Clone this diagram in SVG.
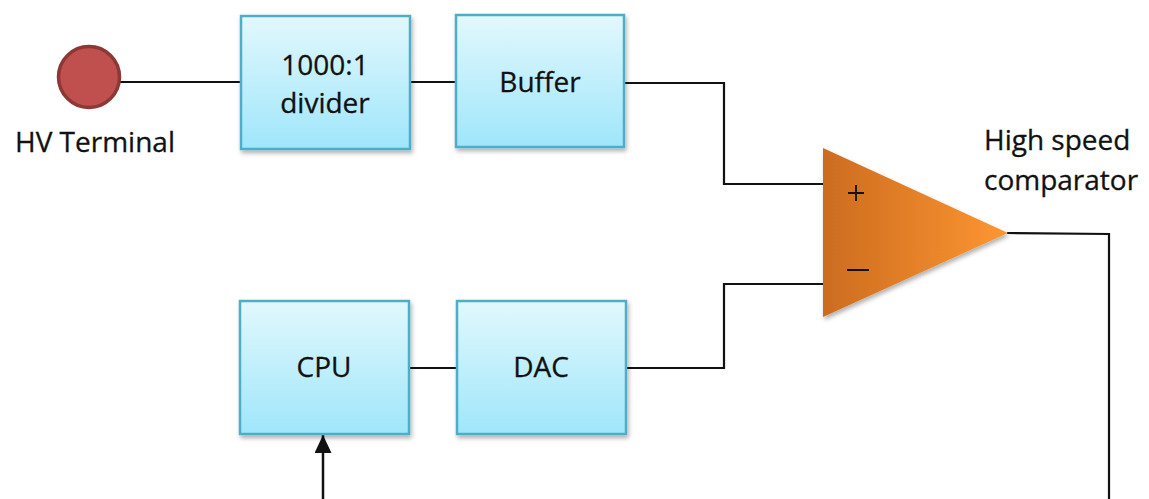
<svg xmlns="http://www.w3.org/2000/svg" width="1149" height="499" viewBox="0 0 1149 499">
<style>
.box{fill:url(#bg);stroke:#4eaec8;stroke-width:2.5;filter:url(#sh)}
.t{font-family:"Open Sans","Liberation Sans",sans-serif;font-size:28px;fill:#111;stroke:#111;stroke-width:0.3}
.w{fill:none;stroke:#111;stroke-width:2.2}
</style>
<defs>
<linearGradient id="bg" x1="0" y1="0" x2="0" y2="1"><stop offset="0" stop-color="#e2f8fd"/><stop offset="1" stop-color="#9fe6fb"/></linearGradient>
<linearGradient id="og" x1="0" y1="0" x2="1" y2="0"><stop offset="0" stop-color="#cc6c1f"/><stop offset="1" stop-color="#fd9632"/></linearGradient>
<filter id="sh" x="-10%" y="-10%" width="125%" height="125%"><feDropShadow dx="1.5" dy="3" stdDeviation="2" flood-color="#000" flood-opacity="0.3"/></filter>
<marker id="ah" markerWidth="18" markerHeight="17" refX="18" refY="8.5" orient="auto" markerUnits="userSpaceOnUse" viewBox="0 0 18 17"><path d="M0,0 L18,8.5 L0,17 z" fill="#111"/></marker>
</defs>
<rect width="1149" height="499" fill="#fff"/>
<g id="connectors">
<line class="w" x1="120" y1="82" x2="241" y2="82"/>
<line class="w" x1="410" y1="82" x2="456" y2="82"/>
<polyline class="w" points="624,83 724,83 724,184 824,184"/>
<polyline class="w" points="626,368 724,368 724,284 824,284"/>
<line class="w" x1="409" y1="368" x2="457" y2="368"/>
<polyline class="w" points="1007,233 1109,234 1109,499"/>
<line x1="323" y1="499" x2="323" y2="435" stroke="#111" stroke-width="2.5" marker-end="url(#ah)"/>
</g>
<g id="hv">
<circle cx="89" cy="77" r="30.5" fill="#c0504d" stroke="#8c3836" stroke-width="3.5"/>
<text class="t" x="95" y="152" text-anchor="middle">HV Terminal</text>
</g>
<g id="divider">
<rect class="box" x="241" y="16" width="169" height="133"/>
<text class="t" x="325" y="75" text-anchor="middle">1000:1</text>
<text class="t" x="325" y="113" text-anchor="middle">divider</text>
</g>
<g id="buffer">
<rect class="box" x="456" y="15" width="168" height="132"/>
<text class="t" x="540" y="92" text-anchor="middle">Buffer</text>
</g>
<g id="cpu">
<rect class="box" x="240" y="301" width="169" height="133"/>
<text class="t" x="324" y="377" text-anchor="middle">CPU</text>
</g>
<g id="dac">
<rect class="box" x="457" y="301" width="169" height="133"/>
<text class="t" x="541" y="377" text-anchor="middle">DAC</text>
</g>
<g id="comparator">
<path d="M823,148 L1008,233 L823,317 Z" fill="url(#og)" filter="url(#sh)"/>
<path d="M856,185 V201 M848,193 H864" stroke="#111" stroke-width="1.8"/>
<path d="M847,270 H869" stroke="#111" stroke-width="2"/>
<text class="t" x="984" y="150">High speed</text>
<text class="t" x="984" y="190">comparator</text>
</g>
</svg>
